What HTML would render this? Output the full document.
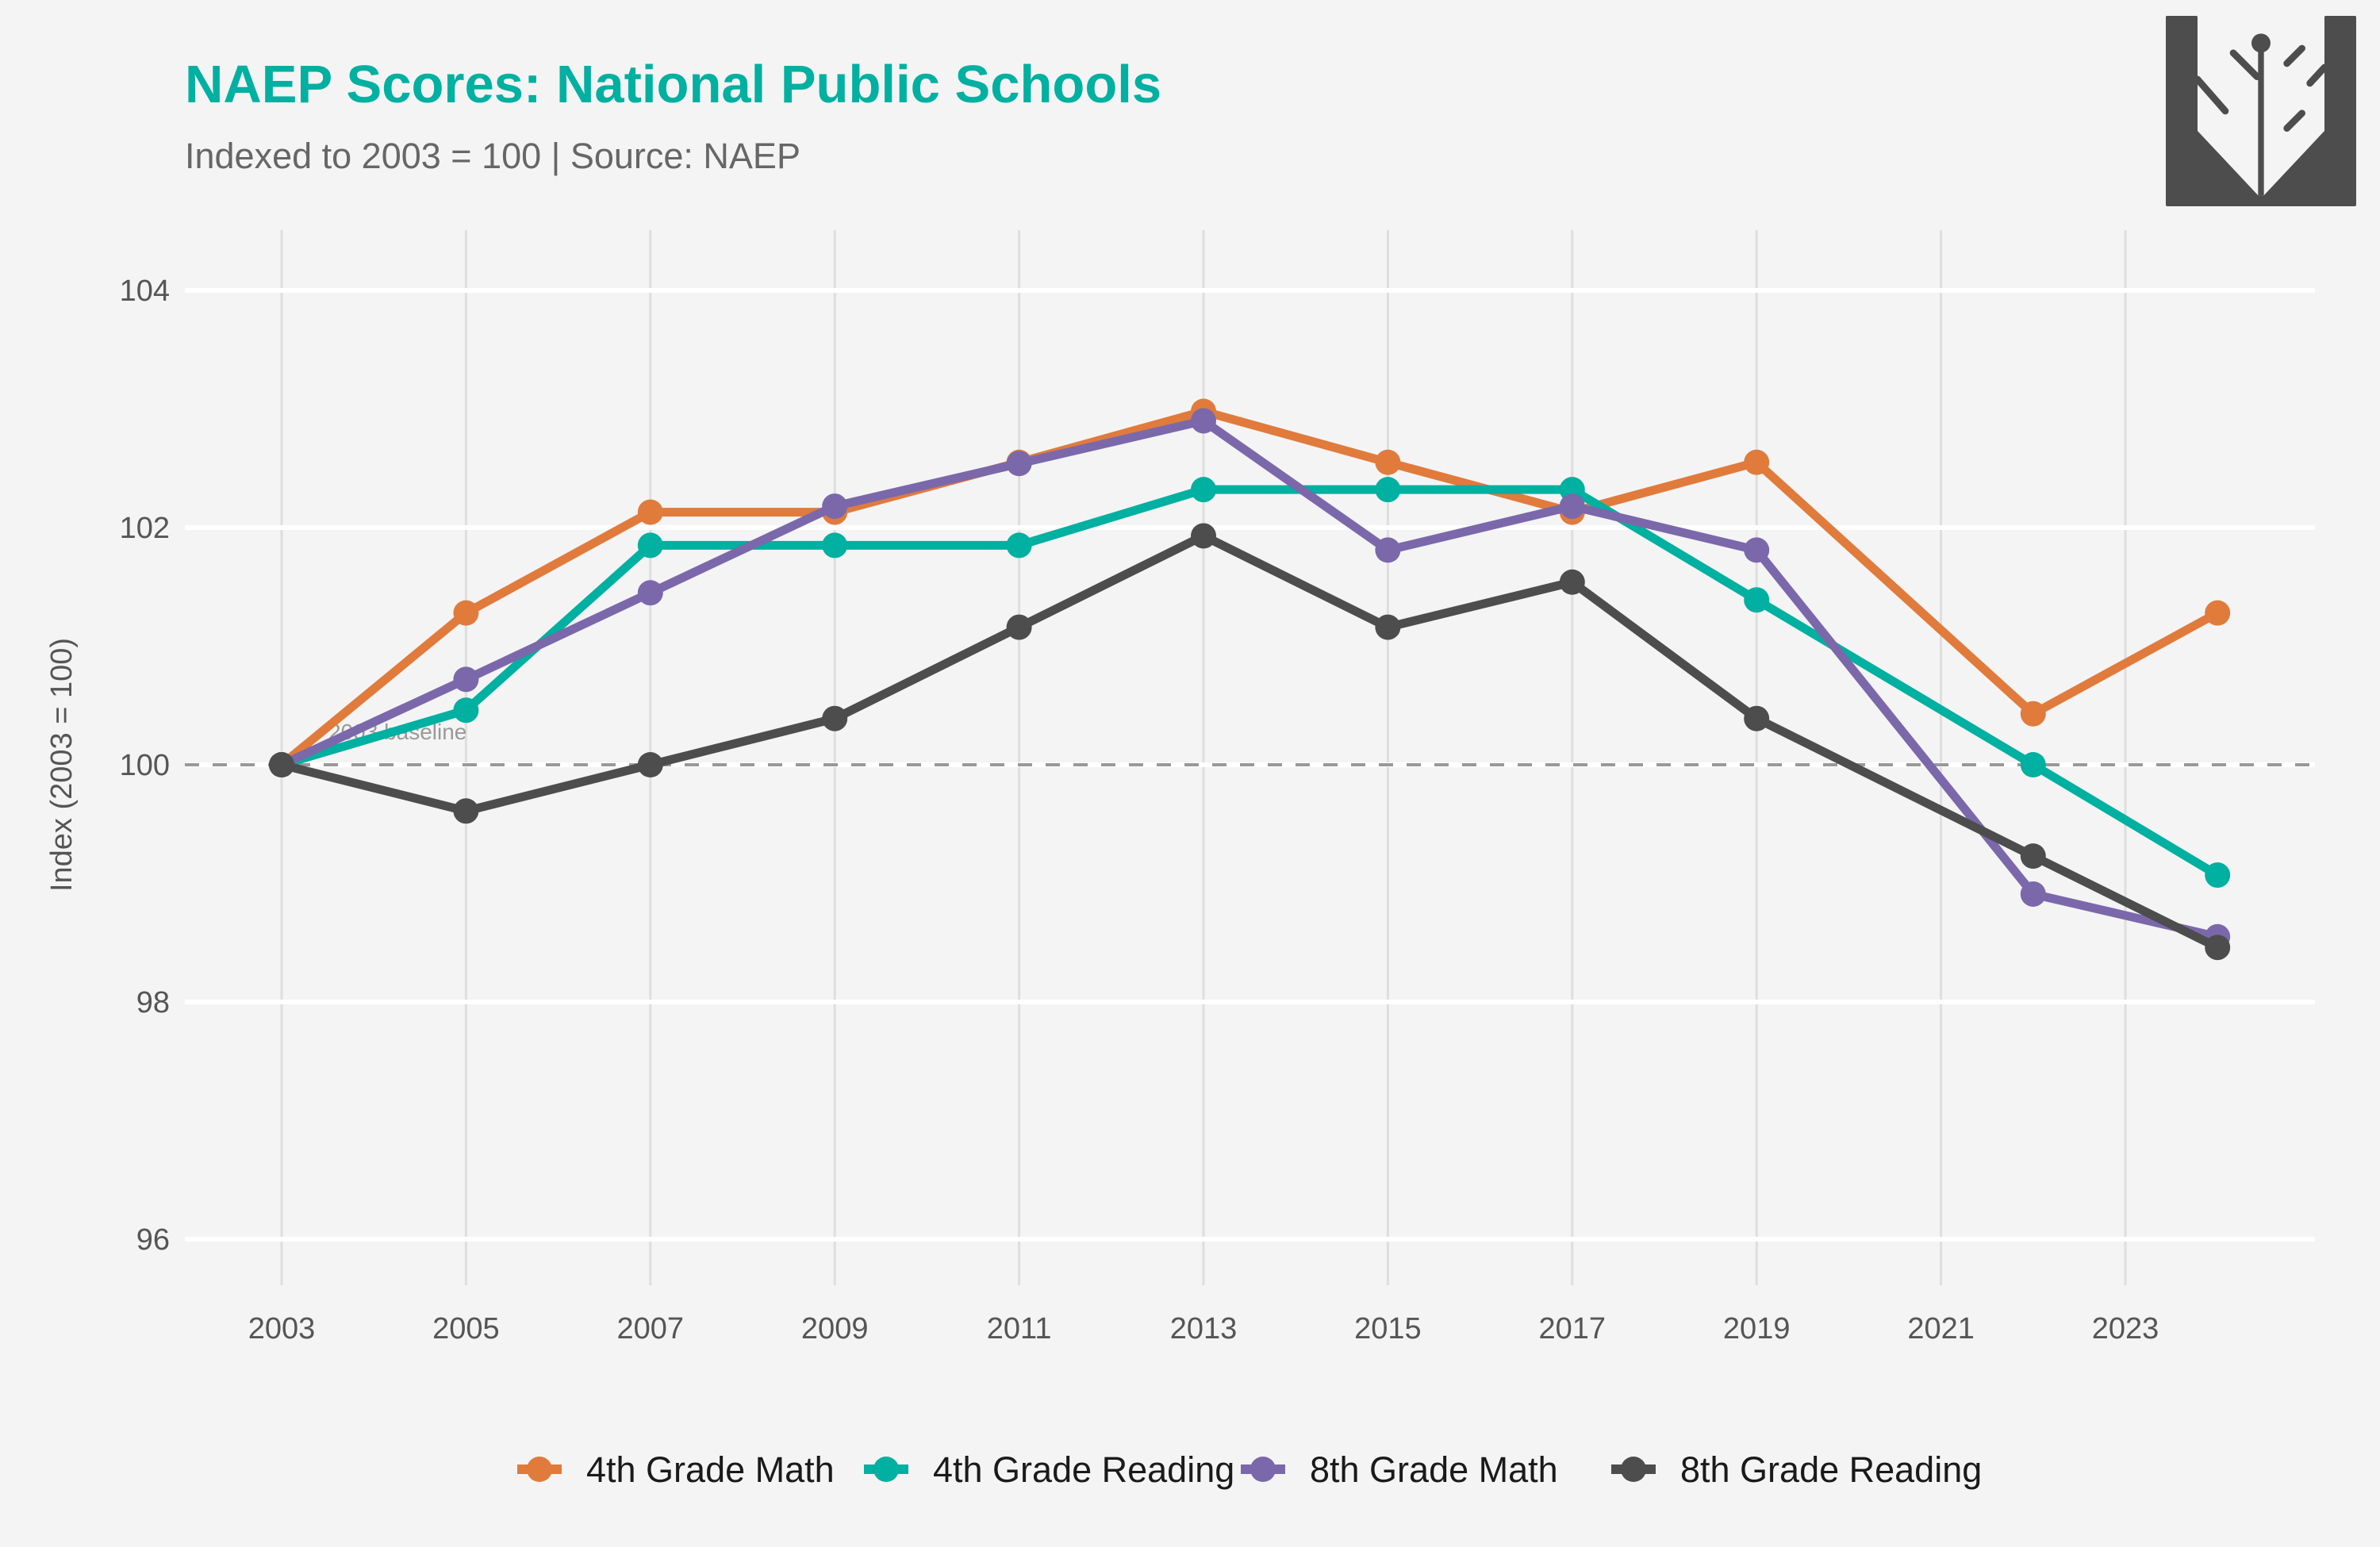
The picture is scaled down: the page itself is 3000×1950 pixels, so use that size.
<!DOCTYPE html>
<html><head><meta charset="utf-8"><style>
html,body{margin:0;padding:0;background:#f4f4f4;}
svg{display:block;font-family:"Liberation Sans",sans-serif;}
</style></head><body>
<svg id="chart" width="3000" height="1950" viewBox="0 0 3000 1950" xmlns="http://www.w3.org/2000/svg">
<rect width="3000" height="1950" fill="#f4f4f4"/>
<text x="233" y="129" font-size="67" font-weight="bold" fill="#00b0a0">NAEP Scores: National Public Schools</text>
<text x="233" y="212" font-size="45" fill="#666">Indexed to 2003 = 100 | Source: NAEP</text>
<g transform="translate(2700,0) scale(0.3333)">
<path d="M90,65 Q90,60 95,60 L205,60 Q210,60 210,65 L210,495 L440,740 L460,740 L690,495 L690,65 Q690,60 695,60 L805,60 Q810,60 810,65 L810,775 Q810,780 805,780 L95,780 Q90,780 90,775 Z" fill="#4d4d4d"/>
<g stroke="#4d4d4d" stroke-width="26" stroke-linecap="round" fill="none">
<line x1="210" y1="300" x2="315" y2="420"/>
<line x1="345" y1="200" x2="435" y2="290"/>
<line x1="548" y1="240" x2="605" y2="183"/>
<line x1="635" y1="315" x2="690" y2="255"/>
<line x1="548" y1="485" x2="605" y2="428"/>
</g>
<line x1="450" y1="165" x2="450" y2="740" stroke="#4d4d4d" stroke-width="22"/>
<circle cx="450" cy="163" r="36" fill="#4d4d4d"/>
</g>
<g id="grid"></g>
<line x1="233" y1="964" x2="2918" y2="964" stroke="#999" stroke-width="4" stroke-dasharray="18,17"/>
<text x="414" y="932" font-size="28" fill="#999">2003 baseline</text>
<g id="series"></g>
<g id="axes"></g>
<text transform="translate(90,964) rotate(-90)" text-anchor="middle" font-size="38" fill="#555">Index (2003 = 100)</text>
<g id="legend"></g>
</svg>
<script>
const years = [2003,2005,2007,2009,2011,2013,2015,2017,2019,2022,2024];
const math4 = [100,101.28,102.13,102.13,102.55,102.98,102.55,102.13,102.55,100.43,101.28];
const read4 = [100,100.46,101.85,101.85,101.85,102.32,102.32,102.32,101.39,100.0,99.07];
const math8 = [100,100.72,101.45,102.18,102.54,102.9,101.81,102.18,101.81,98.91,98.55];
const read8 = [100,99.61,100,100.39,101.16,101.93,101.16,101.54,100.39,99.23,98.46];
const seriesNames = ["4th Grade Math","4th Grade Reading","8th Grade Math","8th Grade Reading"];
const xTicks = [2003,2005,2007,2009,2011,2013,2015,2017,2019,2021,2023];
const yTicks = [96,98,100,102,104];

const NS="http://www.w3.org/2000/svg";
const xS = v => 355 + (v-2003)*116.2;
const yS = v => 964 - (v-100)*149.5;
function mk(tag, attrs, parent){const e=document.createElementNS(NS,tag);for(const k in attrs)e.setAttribute(k,attrs[k]);parent.appendChild(e);return e;}
const grid=document.getElementById('grid'), axes=document.getElementById('axes'), sg=document.getElementById('series'), lg=document.getElementById('legend');
xTicks.forEach(t=>{
  const l=mk('line',{x1:xS(t),x2:xS(t),y1:290,y2:1620,stroke:'#dedede','stroke-width':3},grid);
  
  
  const tx=mk('text',{x:xS(t),y:1687,'text-anchor':'middle','font-size':38,fill:'#555'},axes);
  tx.textContent=t;
  
  
});
yTicks.forEach(t=>{
  const l=mk('line',{x1:233,x2:2918,y1:yS(t),y2:yS(t),stroke:'#ffffff','stroke-width':6},grid);
  
  
  const tx=mk('text',{x:214,y:yS(t)+13,'text-anchor':'end','font-size':38,fill:'#555'},axes);
  tx.textContent=t;
  
  
});
const data=[math4,read4,math8,read8];
const colors=["#e07b3c","#00b0a0","#7b68ab","#4d4d4d"];
data.forEach((vals,i)=>{
  const g=mk('g',{},sg);
  
  
  const pts=vals.map((v,j)=>xS(years[j])+','+yS(v)).join(' ');
  const pl=mk('polyline',{points:pts,fill:'none',stroke:colors[i],'stroke-width':11,'stroke-linejoin':'round'},g);
  
  
  vals.forEach((v,j)=>{
    const c=mk('circle',{cx:xS(years[j]),cy:yS(v),r:16,fill:colors[i]},g);
    
    
  });
});
const legX=[652,1089,1564,2031];
seriesNames.forEach((n,i)=>{
  const g=mk('g',{},lg);
  
  
  mk('line',{x1:legX[i],x2:legX[i]+56,y1:1852,y2:1852,stroke:colors[i],'stroke-width':12},g);
  mk('circle',{cx:legX[i]+28,cy:1852,r:16,fill:colors[i]},g);
  const t=mk('text',{x:legX[i]+87,y:1868,'font-size':45,fill:'#1a1a1a'},g);
  t.textContent=n;
});
</script>
</body></html>
